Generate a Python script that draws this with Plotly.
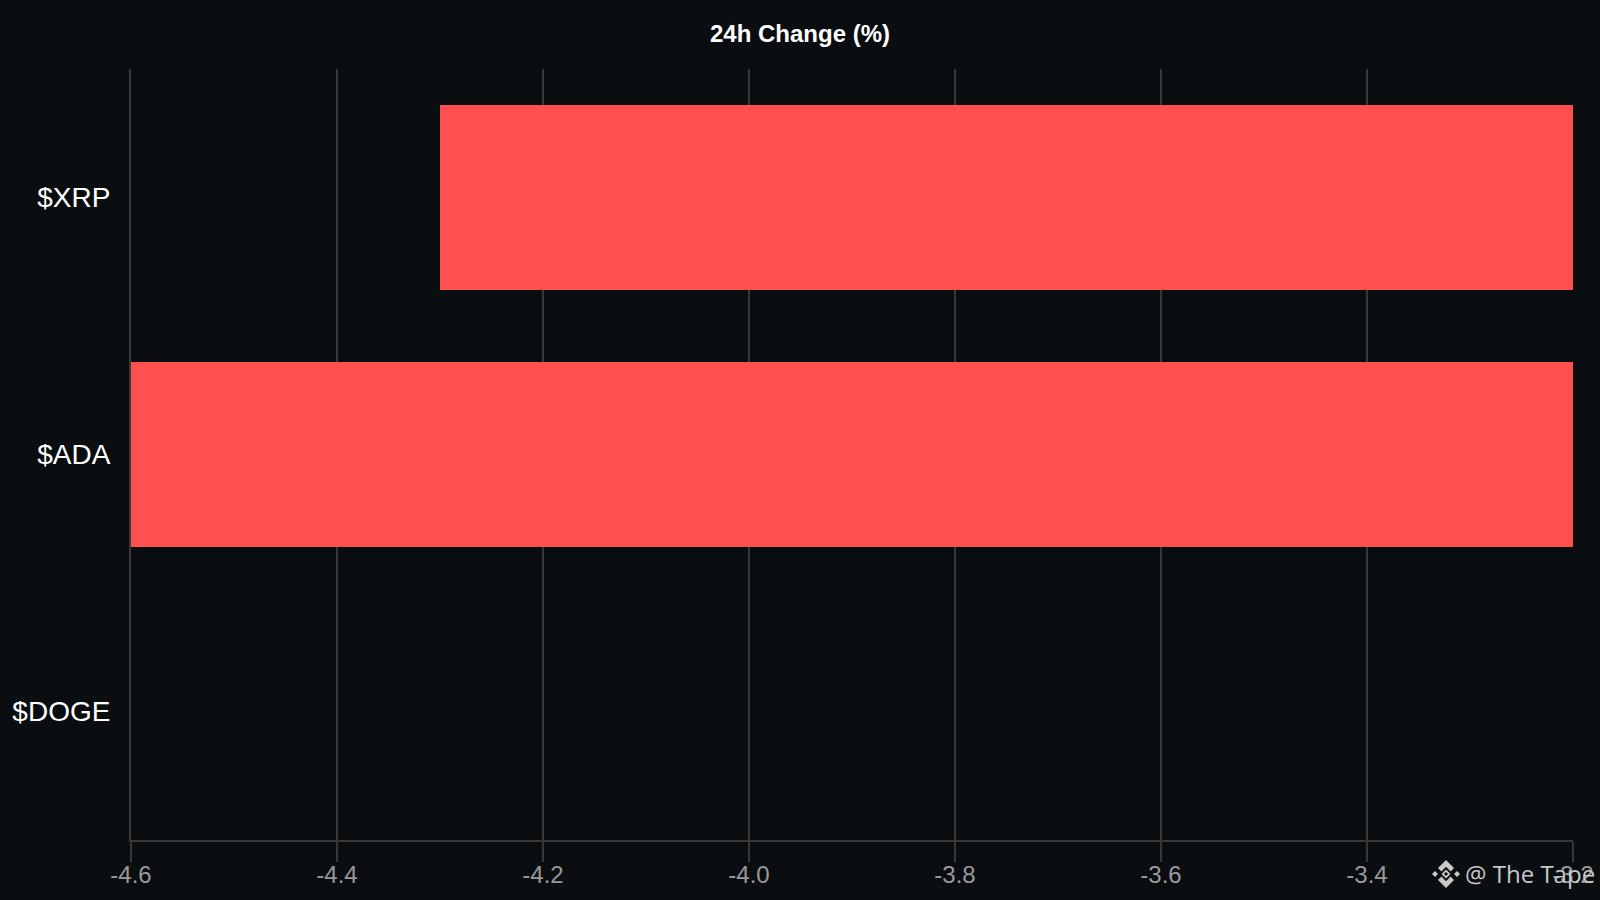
import base64
import plotly.graph_objects as go

tokens = ["$XRP", "$ADA", "$DOGE"]
change_24h = [-4.3, -4.6, -3.2]
x_ticks = [-4.6, -4.4, -4.2, -4.0, -3.8, -3.6, -3.4, -3.2]
x_labels = ["-4.6", "-4.4", "-4.2", "-4.0", "-3.8", "-3.6", "-3.4", "-3.2"]

BG = "#0a0e11"
RED = "#ff4f4f"
GRID = "#383838"
FONT = "Liberation Sans, Arial, sans-serif"

# little diamond mark for the watermark
LOGO = """<svg xmlns="http://www.w3.org/2000/svg" viewBox="0 0 28 28">
<g fill="#c8c8c8">
<path d="M14 0 L22 8 L18.6 11.4 L14 6.8 L9.4 11.4 L6 8 Z"/>
<path d="M14 28 L22 20 L18.6 16.6 L14 21.2 L9.4 16.6 L6 20 Z"/>
<path d="M0 14 L3 11 L6 14 L3 17 Z"/>
<path d="M28 14 L25 11 L22 14 L25 17 Z"/>
<path d="M14 9.5 L18.5 14 L14 18.5 L9.5 14 Z M14 12 L12 14 L14 16 L16 14 Z" fill-rule="evenodd"/>
</g></svg>"""
logo_src = "data:image/svg+xml;base64," + base64.b64encode(LOGO.encode()).decode()

fig = go.Figure(go.Bar(
    x=change_24h, y=tokens, orientation="h",
    marker=dict(color=RED, line=dict(width=0)),
    hovertemplate="%{y}: %{x}%<extra></extra>",
))

fig.update_layout(
    width=1600, height=900,
    paper_bgcolor=BG, plot_bgcolor=BG,
    margin=dict(l=131, r=27, t=69, b=60, autoexpand=False),
    bargap=0.28,
    showlegend=False,
    font=dict(family=FONT, color="#ffffff"),
    title=dict(
        text="<b>24h Change (%)</b>",
        font=dict(family=FONT, size=24, color="#ffffff"),
        x=0.5, xanchor="center", y=0.9625, yanchor="middle",
    ),
    images=[dict(
        source=logo_src, xref="paper", yref="paper",
        x=(1432 - 131) / 1442, y=-(888 - 840) / 771,
        sizex=28 / 1442, sizey=28 / 771,
        xanchor="left", yanchor="bottom", layer="above",
    )],
    annotations=[dict(
        text="@ The Tape", xref="paper", yref="paper",
        x=(1463 - 131) / 1442, y=-(873 - 840) / 771,
        xanchor="left", yanchor="middle", showarrow=False,
        font=dict(family="Open Sans", size=24, color="#c8c8c8"),
    )],
)

fig.update_xaxes(
    range=[-4.6, -3.2], automargin=False, layer="below traces",
    tickmode="array", tickvals=x_ticks, ticktext=x_labels,
    ticks="outside", ticklen=20, tickwidth=2, tickcolor=GRID,
    ticklabelstandoff=-8,
    tickfont=dict(family=FONT, size=24, color="#999999"),
    showgrid=True, gridcolor=GRID, gridwidth=2,
    showline=True, linecolor=GRID, linewidth=2,
    zeroline=False,
)
fig.update_yaxes(
    categoryorder="array", categoryarray=tokens, autorange="reversed",
    automargin=False, layer="below traces",
    ticks="", ticklabelstandoff=13,
    tickfont=dict(family=FONT, size=28, color="#ffffff"),
    showgrid=False, showline=True, linecolor=GRID, linewidth=2,
    zeroline=False,
)

# page has a default 8px body margin, drop it so the chart fills the window
fig.write_html(
    "out.html",
    config={"displayModeBar": False},
    post_script="document.body.style.margin='0';document.body.style.overflow='hidden';"
                f"document.body.style.background='{BG}';",
)
